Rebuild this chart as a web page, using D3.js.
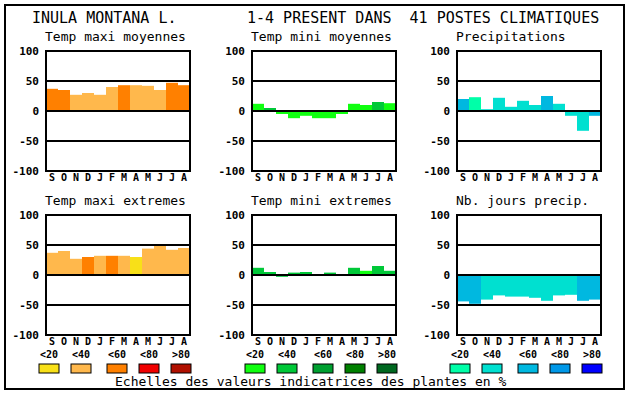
<!DOCTYPE html>
<html>
<head>
<meta charset="utf-8">
<script src="https://cdn.jsdelivr.net/npm/d3@7"></script>
<style>
  body { margin: 0; background: #fff; }
  svg { display: block; }
  text { font-family: "DejaVu Sans Mono", "Liberation Mono", monospace; fill: #000; }
</style>
</head>
<body>
<div id="chart"></div>
<script>
// month labels (september -> august)
const months = ["S", "O", "N", "D", "J", "F", "M", "A", "M", "J", "J", "A"];

// values, with the colour class (0 = <20 ... 4 = >80)
const tmaxMoy    = [37, 35, 27, 30, 27, 40, 43, 43, 42, 35, 47, 43];
const tmaxMoyCls = [2, 2, 1, 1, 1, 1, 2, 1, 1, 1, 2, 2];

const tminMoy    = [12, 5, -5, -12, -8, -12, -12, -5, 12, 10, 15, 13];
const tminMoyCls = [0, 1, 0, 0, 0, 0, 0, 0, 0, 0, 1, 0];

const precip     = [20, 23, 3, 22, 7, 17, 10, 25, 12, -8, -33, -8];
const precipCls  = [2, 0, 1, 1, 1, 1, 1, 2, 1, 1, 1, 2];

const tmaxExt    = [37, 40, 27, 30, 32, 32, 32, 30, 44, 49, 42, 45];
const tmaxExtCls = [1, 1, 1, 2, 1, 2, 1, 0, 1, 1, 1, 1];

const tminExt    = [12, 5, -3, 4, 5, 0, 4, 0, 12, 7, 15, 7];
const tminExtCls = [1, 1, 1, 1, 1, 1, 1, 1, 1, 0, 1, 1];

const nbJours    = [-44, -48, -41, -34, -36, -36, -38, -43, -34, -33, -43, -41];
const nbJoursCls = [2, 2, 1, 1, 1, 1, 1, 1, 1, 1, 2, 2];

const tickValues = [100, 50, 0, -50, -100];
const legendLabels = ["<20", "<40", "<60", "<80", ">80"];

const maxColors  = ["#f8e018", "#ffb84c", "#ff8000", "#f00000", "#b01000"];
const minColors  = ["#10ff10", "#00c838", "#00a030", "#008000", "#006820"];
const precColors = ["#00ffa8", "#00e0d0", "#00b8e0", "#0098e8", "#0000ff"];

const panels = [
  { title: "Temp maxi moyennes", values: tmaxMoy, cls: tmaxMoyCls, colors: maxColors, col: 0, row: 0 },
  { title: "Temp mini moyennes", values: tminMoy, cls: tminMoyCls, colors: minColors, col: 1, row: 0 },
  { title: "Precipitations", values: precip, cls: precipCls, colors: precColors, col: 2, row: 0 },
  { title: "Temp maxi extremes", values: tmaxExt, cls: tmaxExtCls, colors: maxColors, col: 0, row: 1 },
  { title: "Temp mini extremes", values: tminExt, cls: tminExtCls, colors: minColors, col: 1, row: 1 },
  { title: "Nb. jours precip.", values: nbJours, cls: nbJoursCls, colors: precColors, col: 2, row: 1 }
];

const width = 630, height = 394;
const colX = [46, 252, 457];
const rowY = [51, 215];
const pw = 144, ph = 120;

const svg = d3.select("#chart").append("svg")
    .attr("width", width)
    .attr("height", height);

svg.append("rect")
    .attr("x", 5).attr("y", 5)
    .attr("width", 619).attr("height", 384)
    .attr("fill", "none").attr("stroke", "#000").attr("stroke-width", 2);

svg.append("text")
    .attr("x", 32).attr("y", 23)
    .attr("font-size", 15)
    .text("INULA MONTANA L.");

svg.append("text")
    .attr("x", 247).attr("y", 23)
    .attr("font-size", 15)
    .style("white-space", "pre")
    .text("1-4 PRESENT DANS  41 POSTES CLIMATIQUES");

panels.forEach(p => {
    const x0 = colX[p.col], y0 = rowY[p.row];
    const g = svg.append("g");

    const x = d3.scaleBand().domain(d3.range(12)).range([x0, x0 + pw]).padding(0);
    const y = d3.scaleLinear().domain([-100, 100]).range([y0 + ph, y0]);

    g.append("text")
        .attr("x", x0 - 1).attr("y", y0 - 10)
        .attr("font-size", 13)
        .text(p.title);

    g.selectAll("rect.bar")
        .data(p.values)
        .join("rect")
        .attr("class", "bar")
        .attr("x", (d, i) => x(i))
        .attr("width", x.bandwidth())
        .attr("y", d => y(Math.max(0, d)))
        .attr("height", d => Math.abs(y(d) - y(0)))
        .attr("fill", (d, i) => p.colors[p.cls[i]]);

    g.selectAll("line.grid")
        .data([50, 0, -50])
        .join("line")
        .attr("class", "grid")
        .attr("x1", x0).attr("x2", x0 + pw)
        .attr("y1", d => y(d)).attr("y2", d => y(d))
        .attr("stroke", "#000").attr("stroke-width", 2);

    g.append("rect")
        .attr("x", x0).attr("y", y0)
        .attr("width", pw).attr("height", ph)
        .attr("fill", "none").attr("stroke", "#000").attr("stroke-width", 2);

    const yAxis = g.append("g")
        .attr("transform", `translate(${x0 - 7},0)`)
        .call(d3.axisLeft(y).tickValues(tickValues).tickSize(0).tickPadding(0).tickFormat(d => String(d)));
    yAxis.select(".domain").remove();
    yAxis.selectAll("text")
        .attr("font-size", 11).attr("font-weight", "bold")
        .attr("font-family", "'DejaVu Sans Mono', monospace")
        .attr("fill", "#000");

    const xAxis = g.append("g")
        .attr("transform", `translate(0,${y0 + ph})`)
        .call(d3.axisBottom(x).tickSize(0).tickFormat(i => months[i]));
    xAxis.select(".domain").remove();
    xAxis.selectAll("text")
        .attr("y", 10).attr("dy", null)
        .attr("font-size", 10).attr("font-weight", "bold")
        .attr("font-family", "'DejaVu Sans Mono', monospace")
        .attr("fill", "#000");
});

// legends under each column
const legendOffsets = [0, 32, 68, 100, 132];
[maxColors, minColors, precColors].forEach((colors, c) => {
    const gx = colX[c] - 7;
    const lg = svg.append("g");
    lg.selectAll("text")
        .data(legendLabels)
        .join("text")
        .attr("x", (d, i) => gx + legendOffsets[i] + 10)
        .attr("y", 358)
        .attr("text-anchor", "middle")
        .attr("font-size", 10).attr("font-weight", "bold")
        .text(d => d);
    lg.selectAll("rect")
        .data(colors)
        .join("rect")
        .attr("x", (d, i) => gx + legendOffsets[i])
        .attr("y", 364)
        .attr("width", 20).attr("height", 9)
        .attr("fill", d => d)
        .attr("stroke", "#000").attr("stroke-width", 1);
});

svg.append("text")
    .attr("x", 115).attr("y", 386)
    .attr("font-size", 13)
    .text("Echelles des valeurs indicatrices des plantes en %");
</script>
</body>
</html>
